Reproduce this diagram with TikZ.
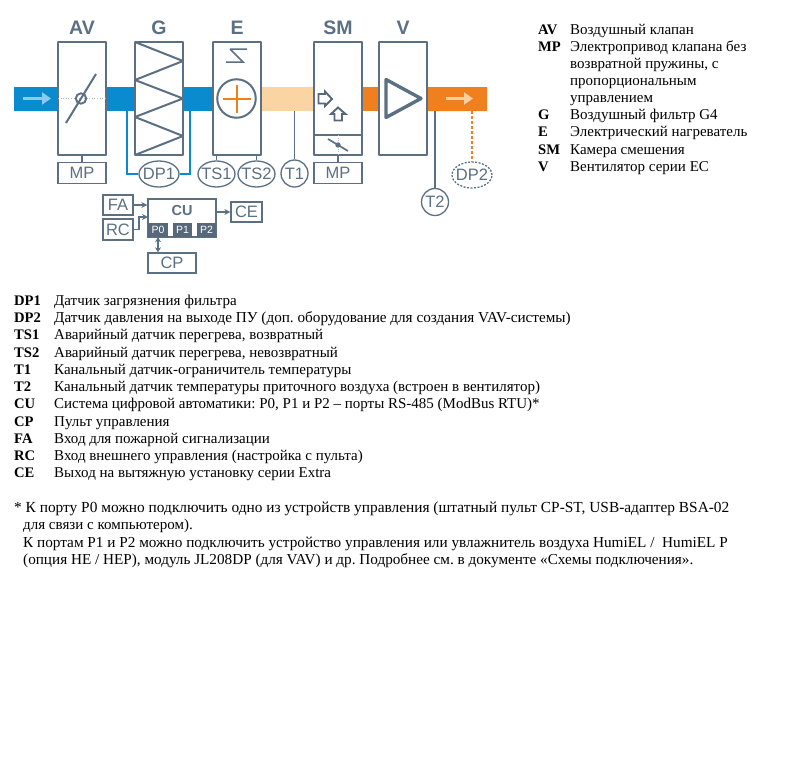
\documentclass[tikz,border=0pt]{standalone}
\usepackage{fontspec}
\setmainfont{Liberation Serif}
\setsansfont{Liberation Sans}
\usetikzlibrary{arrows.meta,shapes.geometric}
\frenchspacing
\definecolor{gr}{HTML}{5B7083}
\definecolor{blu}{HTML}{0A8BCF}
\definecolor{org}{HTML}{F07F1E}
\definecolor{pch}{HTML}{FBD4A3}
\definecolor{lblu}{HTML}{8CCBEC}
\definecolor{lorg}{HTML}{F9CFA0}
\definecolor{dk}{HTML}{56687A}
\newcommand{\ovtext}[1]{\makebox[0pt]{#1}}
\newcommand{\sized}[1]{\fontsize{#1}{17}\selectfont}
\tikzset{
 unit/.style={draw=gr,line width=1.9pt,fill=white,rounded corners=0.5pt},
 small/.style={draw=gr,line width=1.4pt,fill=white,font=\sffamily\fontsize{16.5}{18}\selectfont,text=gr,inner sep=0pt},
 oval/.style={draw=gr,line width=1.3pt,fill=white,ellipse,font=\sffamily\fontsize{16.5}{18}\selectfont,text=gr,inner sep=0pt,minimum width=40pt,minimum height=26pt},
 ovald/.style={oval,dashed,dash pattern=on 2pt off 1.5pt},
 roundn/.style={oval,circle,minimum width=27pt,minimum height=27pt},
 head/.style={font=\sffamily\bfseries\fontsize{19.5}{20}\selectfont,text=gr,anchor=base},
 link/.style={draw=gr,line width=1.3pt},
 port/.style={fill=dk,text=white,font=\sffamily\fontsize{10.5}{11}\selectfont,inner sep=0pt},
 key/.style={anchor=base west,inner sep=0pt,font=\bfseries\fontsize{14.6}{17}\selectfont},
 val/.style={anchor=base west,inner sep=0pt,font=\fontsize{15}{17}\selectfont},
 tinyarr/.style={-{Stealth[length=6pt,width=6pt]},draw=gr,line width=1.2pt},
}
\begin{document}
\begin{tikzpicture}[x=1pt,y=-1pt]
\useasboundingbox (0,0) rectangle (800,777);
% ducts
\fill[blu,rounded corners=0.5pt] (14,87) rectangle (60,111);
\fill[blu] (104,87) rectangle (215,111);
\fill[pch] (259,87) rectangle (316,111);
\fill[org] (360,87) rectangle (381,111);
\fill[org,rounded corners=0.5pt] (425,87) rectangle (487,111);
% units
\node[unit,minimum width=48pt,minimum height=113pt,inner sep=0pt] (AV) at (82,98.5) {};
\node[unit,minimum width=48pt,minimum height=113pt,inner sep=0pt] (G) at (159,98.5) {};
\node[unit,minimum width=48pt,minimum height=113pt,inner sep=0pt] (E) at (237,98.5) {};
\node[unit,minimum width=48pt,minimum height=113pt,inner sep=0pt] (SM) at (338,98.5) {};
\node[unit,minimum width=48pt,minimum height=113pt,inner sep=0pt] (V) at (403,98.5) {};
% heads
\node[head] at (82,34) {AV};
\node[head] at (159,34) {G};
\node[head] at (237,34) {E};
\node[head] at (338,34) {SM};
\node[head] at (403,34) {V};
% flow arrows
\draw[lblu,line width=3.5pt,-{Triangle[length=9pt,width=12pt]}] (23,98.5) -- (51,98.5);
\draw[lorg,line width=3.5pt,-{Triangle[length=9pt,width=12pt]}] (446,98.5) -- (473,98.5);
% AV damper
\draw[gr!50,line width=0.6pt,dotted] (58,98.5) -- (106,98.5);
\draw[gr,line width=2pt] (66,123) -- (96,74);
\draw[gr,line width=1.9pt] (81,98.5) circle (5.2);
% G filter
\draw[gr,line width=2pt,line join=bevel] (135,42) -- (183,61) -- (135,80) -- (183,98.5) -- (135,117) -- (183,136) -- (135,155);
% E heater
\draw[gr,line width=1.5pt,line join=miter] (230,49) -- (247,49) (230,49) -- (243,62) -- (226,62);
\node[circle,draw=gr,line width=2pt,minimum size=38.5pt,inner sep=0pt] (heat) at (236.5,98.5) {};
\draw[org,line width=2pt] (222.5,98.5) -- (250.5,98.5) (236.5,84.5) -- (236.5,113);
% SM
\draw[gr,line width=1.9pt] (314,135) -- (362,135);
\draw[gr!45,line width=0.7pt,dotted] (338,135) -- (338,155);
\draw[gr,line width=1.7pt] (328,139) -- (348,151);
\fill[gr] (338,145) circle (2.7);
\draw[dk,line width=1.9pt,line join=miter] (318.5,94) -- (325,94) -- (325,91.5) -- (332,99) -- (325,106) -- (325,103.5) -- (318.5,103.5) -- cycle;
\draw[dk,line width=1.9pt,line join=miter] (334.5,120.5) -- (334.5,114) -- (331,114) -- (338,107.5) -- (345.5,114) -- (342,114) -- (342,120.5) -- cycle;
% V
\draw[gr,line width=3.4pt,line join=round] (386,79.5) -- (421,98.5) -- (386,117.5) -- cycle;
% small boxes
\node[small,minimum width=48pt,minimum height=20.5pt] (MPa) at (82,173) {MP};
\node[small,minimum width=48pt,minimum height=20.5pt] (MPb) at (338,173) {MP};
\draw[link] (AV.south) -- (MPa.north);
\draw[link] (SM.south) -- (MPb.north);
% DP1 wires
\coordinate (wl) at (127,111);
\coordinate (wr) at (190,111);
\node[oval] (DP1) at (159,174) {\ovtext{DP1}};
\draw[blu,line width=1.7pt] (wl) |- (DP1.west);
\draw[blu,line width=1.7pt] (wr) |- (DP1.east);
% sensors
\node[oval,minimum width=37pt] (TS1) at (216.5,174) {\ovtext{TS1}};
\node[oval,minimum width=37pt] (TS2) at (256.5,174) {\ovtext{TS2}};
\draw[link] (216.5,155) -- (TS1.north);
\draw[link] (256.5,155) -- (TS2.north);
\node[roundn] (T1) at (294.5,173.5) {\ovtext{T1}};
\coordinate (t1c) at (294.5,111);
\draw[link] (t1c) -- (T1.north);
\node[roundn] (T2) at (435,202) {\ovtext{T2}};
\coordinate (t2c) at (435,111);
\draw[link] (t2c) -- (T2.north);
\node[ovald] (DP2) at (472,175) {\ovtext{DP2}};
\coordinate (dp2c) at (472,111);
\draw[org,line width=1.7pt,dash pattern=on 3pt off 2pt] (dp2c) -- (DP2.north);
% control
\node[small,minimum width=68pt,minimum height=38pt] (CU) at (182,218) {};
\node[font=\sffamily\bfseries\fontsize{14.5}{16}\selectfont,text=gr,inner sep=0pt] at (182,211) {CU};
\node[port,minimum width=20pt,minimum height=14pt] (P0) at (158,230) {P0};
\node[port,minimum width=19.5pt,minimum height=14pt] (P1) at (182.5,230) {P1};
\node[port,minimum width=19.5pt,minimum height=14pt] (P2) at (206.5,230) {P2};
\node[small,minimum width=30pt,minimum height=20pt] (FA) at (118,205) {FA};
\node[small,minimum width=30pt,minimum height=21pt] (RC) at (118,229.5) {RC};
\node[small,minimum width=31pt,minimum height=20pt] (CE) at (246.5,212) {CE};
\node[small,minimum width=48pt,minimum height=20pt] (CP) at (172,263) {CP};
\draw[tinyarr] (FA.east) -- (FA.east -| CU.west);
\coordinate (ct) at (148,217);
\draw[tinyarr] (RC.east) -- (139,229.5) -- (139,217) -- (ct);
\draw[tinyarr] (CE.west -| CU.east) -- (CE.west);
\draw[draw=gr,line width=1.2pt,{Stealth[length=5pt,width=6pt]}-{Stealth[length=5pt,width=6pt]}] (P0.south) -- (P0.south |- CP.north);
% top legend
\foreach \k/\v/\y in {AV/Воздушный клапан/34,MP/Электропривод клапана без/51,G/Воздушный фильтр G4/119.5,E/Электрический нагреватель/136.5,SM/Камера смешения/154,V/Вентилятор серии EC/171}{
 \node[key] at (538,\y) {\k};
 \node[val] at (570,\y) {\v};
}
\node[val] at (570,68) {возвратной пружины, с};
\node[val] at (570,85) {пропорциональным};
\node[val] at (570,102) {управлением};
% main legend
\foreach \k/\v/\y in {
DP1/Датчик загрязнения фильтра/305,
DP2/{\sized{15.2}Датчик давления на выходе ПУ (доп. оборудование для создания VAV-системы)}/322,
TS1/{Аварийный датчик перегрева, возвратный}/339.5,
TS2/{Аварийный датчик перегрева, невозвратный}/357,
T1/Канальный датчик-ограничитель температуры/374,
T2/Канальный датчик температуры приточного воздуха (встроен в вентилятор)/391.5,
CU/{Система цифровой автоматики: P0, P1 и P2 – порты RS-485 (ModBus RTU)*}/408.5,
CP/Пульт управления/426,
FA/Вход для пожарной сигнализации/443,
RC/Вход внешнего управления (настройка с пульта)/460.5,
CE/Выход на вытяжную установку серии Extra/477.5}{
 \node[key] at (14,\y) {\k};
 \node[val] at (54,\y) {\v};
}
\node[val] at (14,512) {\sized{15.37}* К порту P0 можно подключить одно из устройств управления (штатный пульт CP-ST, USB-адаптер BSA-02};
\node[val] at (23,529) {для связи с компьютером).};
\node[val] at (23,547) {\sized{15.25}К портам P1 и P2 можно подключить устройство управления или увлажнитель воздуха HumiEL /\ \ HumiEL P};
\node[val] at (23,564) {\sized{15.2}(опция HE / HEP), модуль JL208DP (для VAV) и др. Подробнее см. в документе «Схемы подключения».};
\end{tikzpicture}
\end{document}
